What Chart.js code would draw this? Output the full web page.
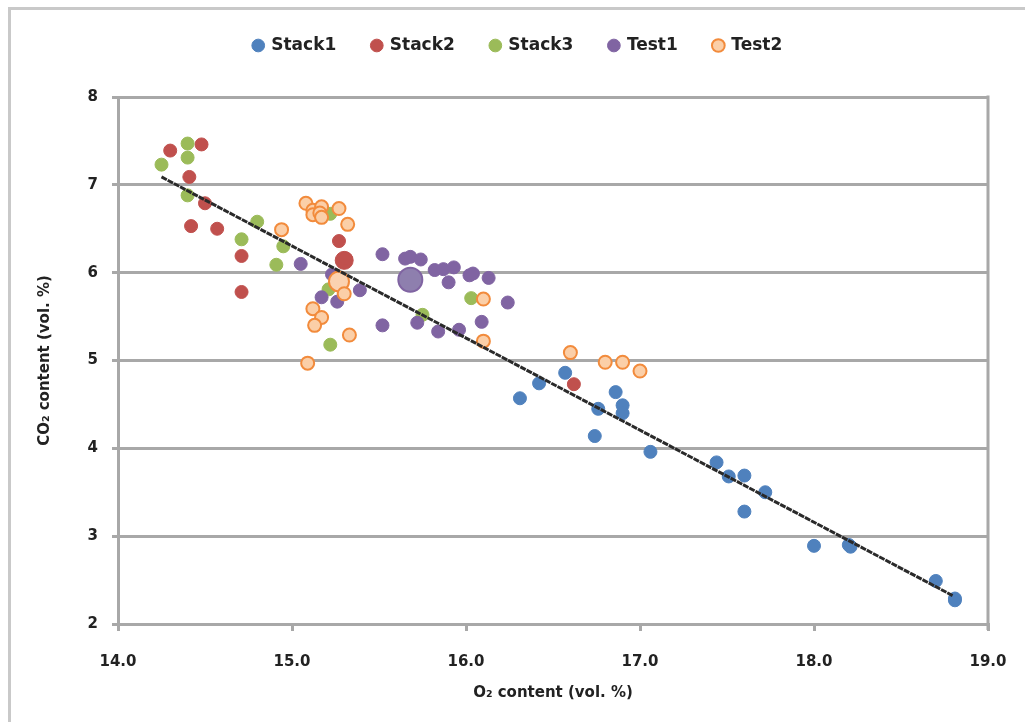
<!DOCTYPE html>
<html>
<head>
<meta charset="utf-8">
<script src="https://cdn.jsdelivr.net/npm/chart.js@4.4.1/dist/chart.umd.min.js"></script>
<style>
  html, body { margin: 0; padding: 0; background: #fff; overflow: hidden; }
  #wrap { position: relative; width: 1025px; height: 722px; }
  #frame { position: absolute; left: 8px; top: 7px; width: 1100px; height: 800px;
           border: 3px solid #c9c9c9; box-sizing: border-box; pointer-events: none; }
  canvas { position: absolute; left: 0; top: 0; }
</style>
</head>
<body>
<div id="wrap">
  <canvas id="chart" width="1025" height="722"></canvas>
  <div id="frame"></div>
</div>
<script>
// Stack1 (blue)
const stack1X = [16.31, 16.42, 16.57, 16.86, 16.76, 16.90, 16.90, 16.74, 17.06, 17.44, 17.51, 17.60, 17.72, 17.60, 18.00, 18.20, 18.21, 18.70, 18.81, 18.81];
const stack1Y = [4.57, 4.74, 4.86, 4.64, 4.45, 4.49, 4.40, 4.14, 3.96, 3.84, 3.68, 3.69, 3.50, 3.28, 2.89, 2.90, 2.88, 2.49, 2.29, 2.27];
// Stack2 (red)
const stack2X = [14.30, 14.48, 14.41, 14.50, 14.42, 14.57, 14.71, 14.71, 15.27, 15.31, 16.62];
const stack2Y = [7.39, 7.46, 7.09, 6.79, 6.53, 6.50, 6.19, 5.78, 6.36, 6.16, 4.73];
// Stack3 (green)
const stack3X = [14.40, 14.40, 14.25, 14.40, 14.80, 14.71, 14.95, 14.91, 15.22, 15.21, 15.22, 16.03, 15.75];
const stack3Y = [7.47, 7.31, 7.23, 6.88, 6.58, 6.38, 6.30, 6.09, 6.67, 5.81, 5.18, 5.71, 5.52];
// Test1 (purple)
const test1X = [15.05, 15.52, 15.23, 15.39, 15.17, 15.26, 15.65, 15.68, 15.74, 15.82, 15.87, 15.93, 15.90, 16.02, 16.04, 16.13, 16.24, 16.09, 15.96, 15.84, 15.72, 15.52];
const test1Y = [6.10, 6.21, 5.98, 5.80, 5.72, 5.67, 6.16, 6.18, 6.15, 6.03, 6.04, 6.06, 5.89, 5.97, 5.99, 5.94, 5.66, 5.44, 5.35, 5.33, 5.43, 5.40];
// Test2 (orange)
const test2X = [15.08, 15.12, 15.17, 15.27, 15.32, 15.12, 15.16, 15.17, 14.94, 15.30, 15.12, 15.17, 15.13, 15.33, 15.09, 16.10, 16.10, 16.60, 16.80, 16.90, 17.00];
const test2Y = [6.79, 6.71, 6.75, 6.73, 6.55, 6.66, 6.68, 6.63, 6.49, 5.76, 5.59, 5.49, 5.40, 5.29, 4.97, 5.70, 5.22, 5.09, 4.98, 4.98, 4.88];
// mean points (larger markers)
const meanStack2 = [15.30, 6.14];
const meanTest1 = [15.68, 5.92];
const meanTest2 = [15.27, 5.90];
// trend line end points
const trendX = [14.25, 18.80];
const trendY = [7.09, 2.32];

const xTicks = [14, 15, 16, 17, 18, 19];
const yTicks = [2, 3, 4, 5, 6, 7, 8];

const pts = (xs, ys) => xs.map((x, i) => ({ x: x, y: ys[i] }));

const tickFont = { family: 'DejaVu Sans', size: 15, weight: 'bold' };
const gridColor = '#a8a8a8';

// right border of the plot area
const plotBorder = {
    id: 'plotBorder',
    afterDatasetsDraw(chart) {
        const { ctx, chartArea } = chart;
        ctx.save();
        ctx.strokeStyle = gridColor;
        ctx.lineWidth = 3;
        ctx.beginPath();
        ctx.moveTo(chartArea.right, chartArea.top - 1.5);
        ctx.lineTo(chartArea.right, chartArea.bottom + 6);
        ctx.stroke();
        ctx.restore();
    }
};

// legend sits a bit right of the canvas centre in the original
const legendShift = {
    id: 'legendShift',
    afterLayout(chart) {
        chart.legend.left += 24;
        chart.legend.right += 24;
    }
};

new Chart(document.getElementById('chart'), {
    type: 'scatter',
    data: {
        datasets: [
            { label: 'Stack1', data: pts(stack1X, stack1Y), backgroundColor: '#4f81bd', borderColor: '#4f81bd', pointRadius: 6.5, order: 6 },
            { label: 'Stack2', data: pts(stack2X, stack2Y), backgroundColor: '#c0504d', borderColor: '#c0504d', pointRadius: 6.5, order: 5 },
            { label: 'Stack3', data: pts(stack3X, stack3Y), backgroundColor: '#9bbb59', borderColor: '#9bbb59', pointRadius: 6.5, order: 4 },
            { label: 'Test1', data: pts(test1X, test1Y), backgroundColor: '#8064a2', borderColor: '#8064a2', pointRadius: 6.5, order: 3 },
            { label: 'Test2', data: pts(test2X, test2Y), backgroundColor: '#fbcfa8', borderColor: '#f28b3c', borderWidth: 2, pointRadius: 6.5, order: 2 },
            { label: 'mean2', data: [{ x: meanStack2[0], y: meanStack2[1] }], backgroundColor: '#c0504d', borderColor: '#c0504d', pointRadius: 9, order: 5 },
            { label: 'mean4', data: [{ x: meanTest1[0], y: meanTest1[1] }], backgroundColor: '#8e7fae', borderColor: '#8064a2', borderWidth: 2, pointRadius: 12, order: 3 },
            { label: 'mean5', data: [{ x: meanTest2[0], y: meanTest2[1] }], backgroundColor: '#fbd2b0', borderColor: '#f28b3c', borderWidth: 2, pointRadius: 10, order: 2 },
            { label: 'trend', type: 'line', data: pts(trendX, trendY), borderColor: '#2a2a2a', borderWidth: 3, borderDash: [6, 1], pointRadius: 0, fill: false, order: 1 }
        ]
    },
    options: {
        responsive: false,
        animation: false,
        layout: { padding: { left: 0, right: 37, top: 1, bottom: 0 } },
        plugins: {
            tooltip: { enabled: false },
            // empty spacer between legend and plot
            subtitle: {
                display: true,
                text: ' ',
                weight: 500,
                font: { size: 10 },
                padding: { top: 10, bottom: 11 }
            },
            legend: {
                position: 'top',
                labels: {
                    filter: item => ['Stack1', 'Stack2', 'Stack3', 'Test1', 'Test2'].includes(item.text),
                    sort: (a, b) => a.datasetIndex - b.datasetIndex,
                    usePointStyle: true,
                    pointStyle: 'circle',
                    boxWidth: 9,
                    boxHeight: 9,
                    padding: 36,
                    color: '#222',
                    font: { family: 'DejaVu Sans', size: 17, weight: 'bold' }
                }
            }
        },
        scales: {
            x: {
                type: 'linear',
                min: 14, max: 19,
                afterBuildTicks: s => { s.ticks = xTicks.map(v => ({ value: v })); },
                afterFit: s => { s.height = 98; s.paddingLeft = 0; s.paddingRight = 0; },
                grid: { display: true, drawOnChartArea: false, drawTicks: true, tickLength: 7, color: gridColor, lineWidth: 3 },
                border: { display: true, color: gridColor, width: 3 },
                ticks: { color: '#222', font: tickFont, padding: 22, callback: v => v.toFixed(1) },
                title: {
                    display: true,
                    text: 'O\u2082 content (vol. %)',
                    color: '#222',
                    font: { family: 'DejaVu Sans', size: 15, weight: 'bold' },
                    padding: { top: 4, bottom: 20 }
                }
            },
            y: {
                type: 'linear',
                min: 2, max: 8,
                afterBuildTicks: s => { s.ticks = yTicks.map(v => ({ value: v })); },
                afterFit: s => { s.width = 118; },
                grid: { display: true, drawOnChartArea: true, drawTicks: true, tickLength: 6, color: gridColor, lineWidth: 3 },
                border: { display: true, color: gridColor, width: 3 },
                ticks: { color: '#222', font: tickFont, padding: 14 },
                title: {
                    display: true,
                    text: 'CO\u2082 content (vol. %)',
                    color: '#222',
                    font: { family: 'DejaVu Sans', size: 15, weight: 'bold' },
                    padding: { top: 36, bottom: 4 }
                }
            }
        }
    },
    plugins: [plotBorder, legendShift]
});
</script>
</body>
</html>
